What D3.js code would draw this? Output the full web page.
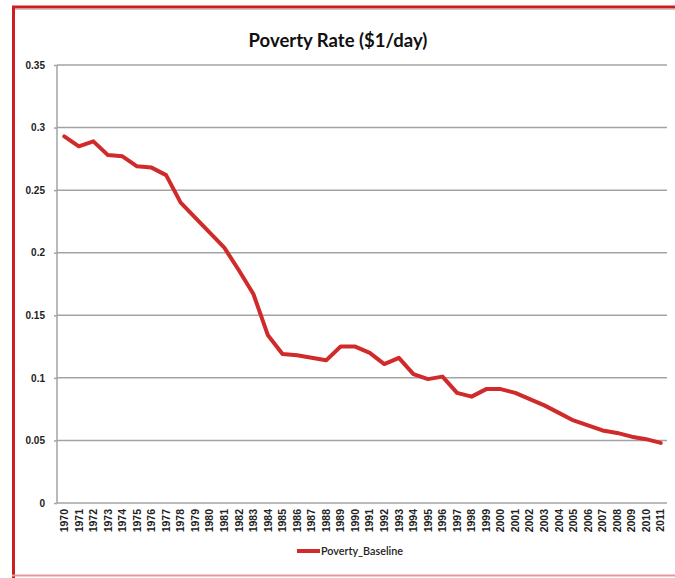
<!DOCTYPE html>
<html>
<head>
<meta charset="utf-8">
<script src="https://cdn.jsdelivr.net/npm/d3@7/dist/d3.min.js"></script>
<style>
  html, body { margin: 0; padding: 0; background: #ffffff; }
  svg { display: block; font-family: Lato, "Open Sans", sans-serif; }
  .grid line { stroke: #a3a3a3; stroke-width: 1.5; }
  .axis path, .axis line { stroke: #a3a3a3; stroke-width: 1.5; }
  .axis text { fill: #222; }
</style>
</head>
<body>
<svg id="chart" width="675" height="578"></svg>
<script>
const WIDTH = 675;
const HEIGHT = 578;

const YEARS = [
  "1970", "1971", "1972", "1973", "1974", "1975", "1976", "1977", "1978", "1979",
  "1980", "1981", "1982", "1983", "1984", "1985", "1986", "1987", "1988", "1989",
  "1990", "1991", "1992", "1993", "1994", "1995", "1996", "1997", "1998", "1999",
  "2000", "2001", "2002", "2003", "2004", "2005", "2006", "2007", "2008", "2009",
  "2010", "2011"
];

// Poverty_Baseline
const POVERTY_BASELINE = [
  0.293, 0.285, 0.289, 0.278, 0.277, 0.269, 0.268, 0.262, 0.240, 0.228,
  0.216, 0.204, 0.186, 0.167, 0.134, 0.119, 0.118, 0.116, 0.114, 0.125,
  0.125, 0.120, 0.111, 0.116, 0.103, 0.099, 0.101, 0.088, 0.085, 0.091,
  0.091, 0.088, 0.083, 0.078, 0.072, 0.066, 0.062, 0.058, 0.056, 0.053,
  0.051, 0.048
];

const Y_TICKS = [0, 0.05, 0.1, 0.15, 0.2, 0.25, 0.3, 0.35];
const Y_TICK_LABELS = ["0", "0.05", "0.1", "0.15", "0.2", "0.25", "0.3", "0.35"];

const TITLE = "Poverty Rate ($1/day)";
const SERIES_NAME = "Poverty_Baseline";
const LINE_COLOR = "#d12a2a";

const margin = { left: 57, right: 7, top: 65, bottom: 75 };

const svg = d3.select("#chart");

// frame (red borders of the screenshot)
svg.append("line")
  .attr("x1", 12).attr("x2", WIDTH).attr("y1", 7).attr("y2", 7)
  .attr("stroke", "#cc1f25").attr("stroke-width", 3);
svg.append("line")
  .attr("x1", 12).attr("x2", WIDTH).attr("y1", 9.5).attr("y2", 9.5)
  .attr("stroke", "#c8c8c8").attr("stroke-width", 1);
svg.append("line")
  .attr("x1", 13.5).attr("x2", 13.5).attr("y1", 6).attr("y2", HEIGHT)
  .attr("stroke", "#cc1f25").attr("stroke-width", 3);
svg.append("line")
  .attr("x1", 12).attr("x2", WIDTH).attr("y1", 575.5).attr("y2", 575.5)
  .attr("stroke", "#e59a9a").attr("stroke-width", 2);

const x = d3.scaleBand()
  .domain(YEARS)
  .range([margin.left, WIDTH - margin.right])
  .paddingInner(0)
  .paddingOuter(0);

const y = d3.scaleLinear()
  .domain([0, 0.35])
  .range([HEIGHT - margin.bottom, margin.top]);

// gridlines
svg.append("g")
  .attr("class", "grid")
  .selectAll("line")
  .data(Y_TICKS.filter((d) => d > 0))
  .join("line")
  .attr("x1", margin.left)
  .attr("x2", WIDTH - margin.right - 1)
  .attr("y1", (d) => y(d))
  .attr("y2", (d) => y(d));

// y axis
const yAxis = svg.append("g")
  .attr("class", "axis y-axis")
  .attr("transform", `translate(${margin.left},0)`)
  .call(d3.axisLeft(y)
    .tickValues(Y_TICKS)
    .tickFormat((d, i) => Y_TICK_LABELS[i])
    .tickSize(3)
    .tickPadding(9));
yAxis.select(".domain").attr("d", `M0,${y(0.35)}V${y(0)}`);
yAxis.selectAll("text")
  .style("font-size", "10px")
  .style("font-weight", "600");

// x axis
const xAxis = svg.append("g")
  .attr("class", "axis x-axis")
  .attr("transform", `translate(0,${y(0)})`)
  .call(d3.axisBottom(x).tickSize(0).tickPadding(0));
xAxis.select(".domain").attr("d", `M${margin.left},0H${WIDTH - margin.right - 1}`);
xAxis.selectAll("text")
  .attr("transform", "rotate(-90)")
  .attr("x", -6)
  .attr("y", 0)
  .attr("dy", "0.35em")
  .attr("text-anchor", "end")
  .style("font-size", "10.5px")
  .style("font-weight", "700");

// series line
const line = d3.line()
  .x((d, i) => x(YEARS[i]) + x.bandwidth() / 2)
  .y((d) => y(d));

svg.append("path")
  .datum(POVERTY_BASELINE)
  .attr("fill", "none")
  .attr("stroke", LINE_COLOR)
  .attr("stroke-width", 4)
  .attr("stroke-linejoin", "round")
  .attr("stroke-linecap", "round")
  .attr("d", line);

// title
svg.append("text")
  .attr("x", 338)
  .attr("y", 47)
  .attr("text-anchor", "middle")
  .style("font-size", "18.5px")
  .style("font-weight", "700")
  .attr("fill", "#111")
  .text(TITLE);

// legend
const legend = svg.append("g").attr("transform", "translate(297,551)");
legend.append("line")
  .attr("x1", 0).attr("x2", 23).attr("y1", 0).attr("y2", 0)
  .attr("stroke", LINE_COLOR).attr("stroke-width", 4);
legend.append("text")
  .attr("x", 24)
  .attr("y", 0)
  .attr("dy", "0.35em")
  .style("font-size", "10.8px")
  .style("font-weight", "600")
  .attr("fill", "#222")
  .text(SERIES_NAME);
</script>
</body>
</html>
